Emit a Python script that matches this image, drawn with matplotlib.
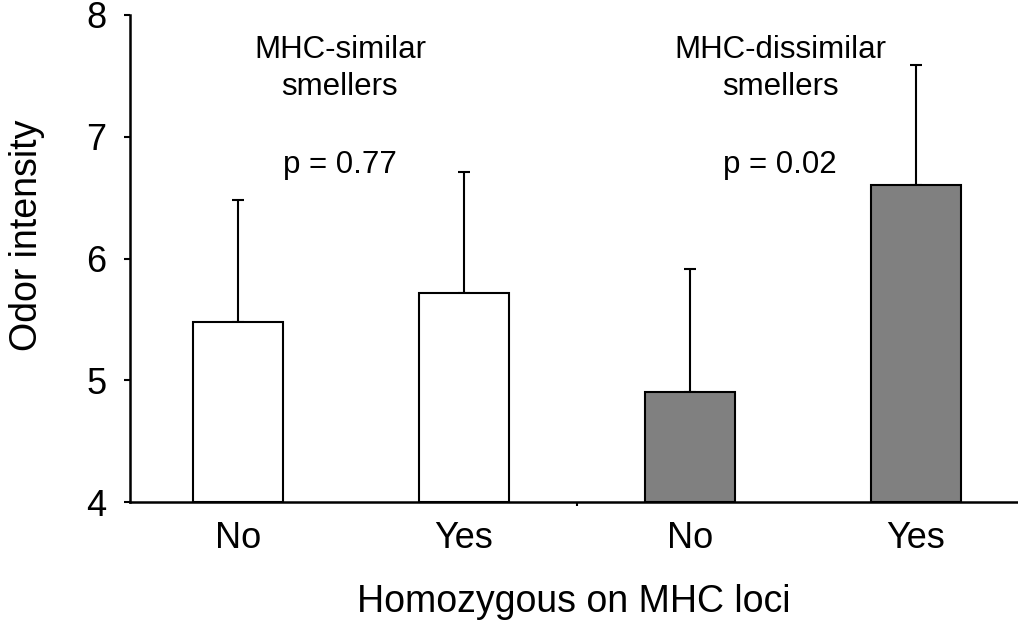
import numpy as np
import matplotlib
matplotlib.use('Agg')
from matplotlib import pyplot as plt

plt.rcParams['font.family'] = ['Liberation Sans', 'DejaVu Sans']

# данные
categories = ['No', 'Yes', 'No', 'Yes']
means = [5.48, 5.72, 4.90, 6.60]
err_up = [1.00, 0.99, 1.01, 0.99]
colors = ['white', 'white', '#808080', '#808080']
group_line1 = ['MHC-similar', 'MHC-dissimilar']
group_line2 = ['smellers', 'smellers']
p_values = ['p = 0.77', 'p = 0.02']
group_x = [0.451, 2.398]

x = np.arange(len(categories))

fig = plt.figure(figsize=(10.18, 6.25), dpi=100)
ax = fig.add_axes([130/1018, (625-502)/625, 888/1018, (502-15)/625])

ax.bar(x, np.array(means) - 4, bottom=4, width=0.40, color=colors,
       edgecolor='black', linewidth=1.5, zorder=2)
ax.errorbar(x, means, yerr=[np.zeros(len(err_up)), err_up], fmt='none',
            ecolor='black', elinewidth=1.5, capsize=4.3, capthick=1.5, zorder=1)

ax.set_xlim(-0.478, -0.478 + 888/226)
ax.set_ylim(4, 8)
ax.set_yticks([4, 5, 6, 7, 8])
ax.set_xticks(x)
ax.set_xticklabels(categories)
ax.set_xticks([1.5], minor=True)

ax.tick_params(axis='x', which='major', length=0, pad=14, labelsize=26)
ax.tick_params(axis='x', which='minor', length=3, width=1.5, direction='out')
ax.tick_params(axis='y', length=4, width=1.5, direction='out', pad=13, labelsize=26)

for s in ['top', 'right']:
    ax.spines[s].set_visible(False)
for s in ['left', 'bottom']:
    ax.spines[s].set_linewidth(1.8)

ax.set_ylabel('Odor intensity', fontsize=27)
ax.yaxis.set_label_coords(-0.096, 0.548)
ax.set_xlabel('Homozygous on MHC loci', fontsize=27, labelpad=20)

# подписи групп (по базовой линии)
for cx, l1, l2, p in zip(group_x, group_line1, group_line2, p_values):
    ax.text(cx, 7.647, l1, ha='center', va='baseline', fontsize=22.5)
    ax.text(cx, 7.343, l2, ha='center', va='baseline', fontsize=22.5)
    ax.text(cx, 6.702, p, ha='center', va='baseline', fontsize=22.5)

fig.savefig('out.png', dpi=100)
